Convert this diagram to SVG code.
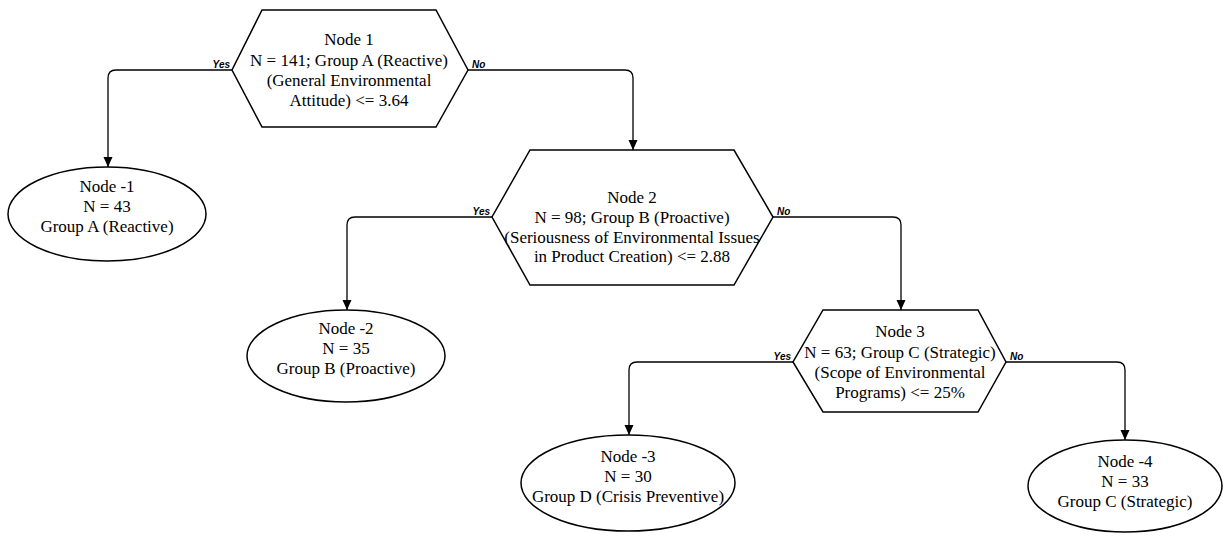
<svg xmlns="http://www.w3.org/2000/svg" width="1224" height="541" viewBox="0 0 1224 541">
<defs>
<marker id="arr" markerUnits="userSpaceOnUse" markerWidth="10" markerHeight="10" refX="10" refY="4.5" orient="auto">
<path d="M0,0 L10,4.5 L0,9 z" fill="#000"/>
</marker>
<style>
.shape{fill:#fff;stroke:#000;stroke-width:1.5}
.conn{fill:none;stroke:#000;stroke-width:1.3;marker-end:url(#arr)}
.t{font-family:"Liberation Serif","Times New Roman",serif;font-size:17px;text-anchor:middle;fill:#000}
.lbl{font-family:"Liberation Sans",Arial,sans-serif;font-size:10px;font-weight:bold;font-style:italic;fill:#000}
</style>
</defs>
<rect width="1224" height="541" fill="#fff"/>
<g id="connectors">
<path class="conn" d="M232,70 H116 Q108,70 108,78 V167"/>
<path class="conn" d="M468,70 H625 Q633,70 633,78 V150"/>
<path class="conn" d="M492,217 H355 Q347,217 347,225 V310"/>
<path class="conn" d="M773,217 H893 Q901,217 901,225 V310"/>
<path class="conn" d="M793,362 H637 Q629,362 629,370 V435"/>
<path class="conn" d="M1006,362 H1117 Q1125,362 1125,370 V440"/>
<text class="lbl" x="230" y="68" text-anchor="end">Yes</text>
<text class="lbl" x="472" y="68">No</text>
<text class="lbl" x="490" y="215" text-anchor="end">Yes</text>
<text class="lbl" x="777" y="215">No</text>
<text class="lbl" x="791" y="360" text-anchor="end">Yes</text>
<text class="lbl" x="1010" y="360">No</text>
</g>
<g id="node1">
<polygon class="shape" points="262,10 436,10 468,70 436,127 262,127 232,70"/>
<text class="t" x="349" y="45">Node 1</text>
<text class="t" x="349" y="66">N = 141; Group A (Reactive)</text>
<text class="t" x="349" y="86">(General Environmental</text>
<text class="t" x="349" y="106">Attitude) &lt;= 3.64</text>
</g>
<g id="node-1">
<ellipse class="shape" cx="107" cy="214" rx="99" ry="47"/>
<text class="t" x="107" y="192">Node -1</text>
<text class="t" x="107" y="212">N = 43</text>
<text class="t" x="107" y="232">Group A (Reactive)</text>
</g>
<g id="node2">
<polygon class="shape" points="530,150 734,150 773,217 734,285 530,285 492,217"/>
<text class="t" x="632" y="203">Node 2</text>
<text class="t" x="632" y="223">N = 98; Group B (Proactive)</text>
<text class="t" x="632" y="243">(Seriousness of Environmental Issues</text>
<text class="t" x="632" y="262">in Product Creation) &lt;= 2.88</text>
</g>
<g id="node-2">
<ellipse class="shape" cx="346" cy="356" rx="99" ry="46"/>
<text class="t" x="346" y="334">Node -2</text>
<text class="t" x="346" y="354">N = 35</text>
<text class="t" x="346" y="374">Group B (Proactive)</text>
</g>
<g id="node3">
<polygon class="shape" points="823,310 978,310 1006,362 978,412 823,412 793,362"/>
<text class="t" x="900" y="337">Node 3</text>
<text class="t" x="900" y="358">N = 63; Group C (Strategic)</text>
<text class="t" x="900" y="378">(Scope of Environmental</text>
<text class="t" x="900" y="398">Programs) &lt;= 25%</text>
</g>
<g id="node-3">
<ellipse class="shape" cx="628" cy="483" rx="107" ry="48"/>
<text class="t" x="628" y="462">Node -3</text>
<text class="t" x="628" y="482">N = 30</text>
<text class="t" x="628" y="502">Group D (Crisis Preventive)</text>
</g>
<g id="node-4">
<ellipse class="shape" cx="1125" cy="486" rx="97" ry="46"/>
<text class="t" x="1125" y="467">Node -4</text>
<text class="t" x="1125" y="487">N = 33</text>
<text class="t" x="1125" y="507">Group C (Strategic)</text>
</g>
</svg>
